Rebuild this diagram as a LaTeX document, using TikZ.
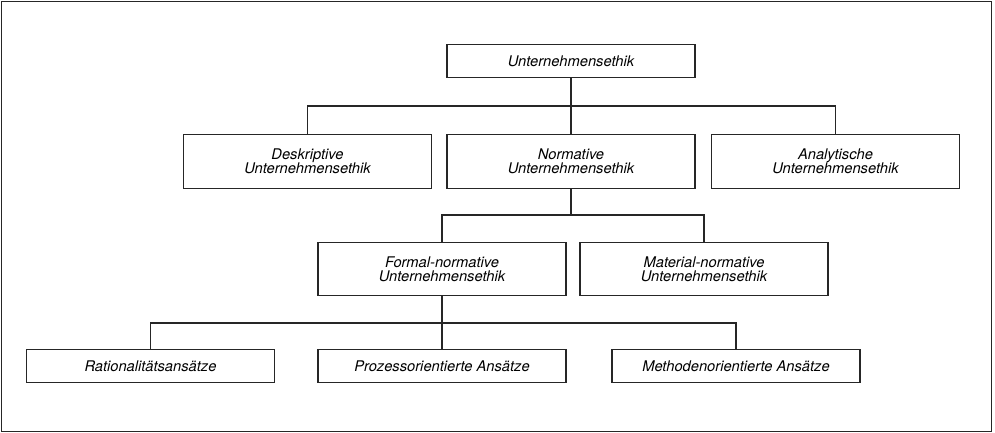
\documentclass[tikz,border=0pt]{standalone}
\usepackage{fontspec}
\setmainfont{TeX Gyre Heros}
\usepackage{tikz}
\usetikzlibrary{positioning}

\tikzset{
  kasten/.style={draw=black!85, line width=1.15pt, fill=white, align=center,
    inner sep=0pt, minimum width=248pt, font=\fontsize{14.7}{14.4}\selectfont\itshape},
  einzeilig/.style={kasten, minimum height=33pt},
  zweizeilig/.style={kasten, minimum height=53.5pt},
  linie/.style={draw=black!85, line width=1.15pt}
}

\begin{document}
\begin{tikzpicture}[x=1pt, y=-1pt]
  \useasboundingbox (0,0) rectangle (995,433);
  % Rahmen
  \draw[draw=black!85, line width=1.5pt] (1.5,1.5) rectangle (991.5,431.5);
  % Oberste Ebene
  \node[einzeilig] (ethik) at (571,61) {Unternehmensethik};
  % Zweite Ebene
  \node[zweizeilig] (deskr) at (307.5,161.5) {Deskriptive\\Unternehmensethik};
  \node[zweizeilig] (normat) at (571,161.5) {Normative\\Unternehmensethik};
  \node[zweizeilig] (analyt) at (835.5,161.5) {Analytische\\Unternehmensethik};
  % Dritte Ebene
  \node[zweizeilig] (formal) at (442,269) {Formal-normative\\Unternehmensethik};
  \node[zweizeilig] (material) at (704,269) {Material-normative\\Unternehmensethik};
  % Vierte Ebene
  \node[einzeilig] (ratio) at (150.5,366) {Rationalitätsansätze};
  \node[einzeilig] (prozess) at (442,366) {Prozessorientierte Ansätze};
  \node[einzeilig] (methoden) at (736,366) {Methodenorientierte Ansätze};
  % Verbindungen
  \coordinate (knoten1) at (571,106);
  \coordinate (knoten2) at (571,215);
  \coordinate (knoten3) at (442,323);
  \draw[linie] (ethik.south) -- (knoten1);
  \draw[linie] (deskr.north) |- (knoten1) -| (analyt.north);
  \draw[linie] (knoten1) -- (normat.north);
  \draw[linie] (normat.south) -- (knoten2);
  \draw[linie] (formal.north) |- (knoten2) -| (material.north);
  \draw[linie] (formal.south) -- (knoten3);
  \draw[linie] (ratio.north) |- (knoten3) -| (methoden.north);
  \draw[linie] (knoten3) -- (prozess.north);
\end{tikzpicture}
\end{document}
